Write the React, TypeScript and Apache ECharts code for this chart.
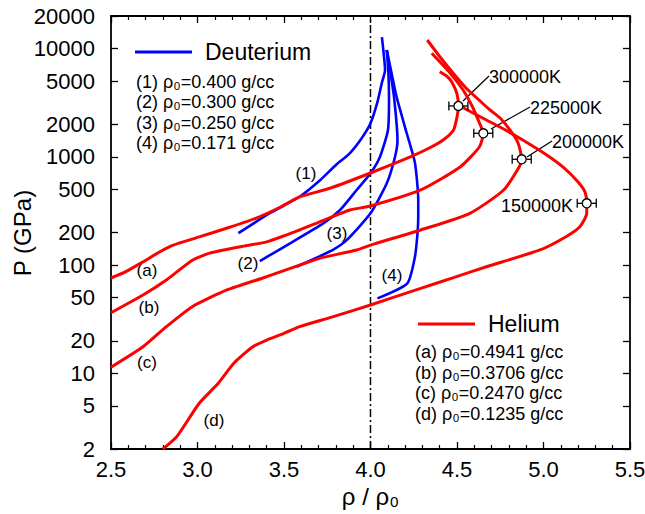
import React, { useEffect, useRef } from 'react';
import * as echarts from 'echarts';

// ---------- data ----------
const yTickValues = [2, 5, 10, 20, 50, 100, 200, 500, 1000, 2000, 5000, 10000, 20000];

// Helium Hugoniots [rho/rho0, P (GPa)]
const heliumA: [number, number][] = [
  [2.5, 76], [2.58, 86], [2.685, 107], [2.78, 132], [2.86, 153], [3.01, 182], [3.19, 225],
  [3.34, 272], [3.48, 344], [3.59, 426], [3.77, 515], [4.0, 709], [4.23, 997], [4.34, 1206],
  [4.42, 1431], [4.48, 1770], [4.5, 2333], [4.508, 2950], [4.5, 3805], [4.47, 4913],
  [4.44, 5581], [4.4, 6115],
];
const heliumB: [number, number][] = [
  [2.5, 36.3], [2.685, 52.9], [2.82, 72.8], [2.97, 111], [3.07, 129], [3.25, 148], [3.4, 164],
  [3.59, 211], [3.71, 252], [3.88, 323], [4.0, 351], [4.29, 494], [4.52, 811], [4.63, 1240],
  [4.652, 1650], [4.63, 2053], [4.59, 2886], [4.535, 4144], [4.46, 5948], [4.354, 9045],
];
const heliumC: [number, number][] = [
  [2.5, 11.4], [2.685, 17.6], [2.82, 27], [2.97, 41.3], [3.17, 58.9], [3.4, 78.1], [3.59, 100],
  [3.71, 116], [3.92, 138], [4.0, 153], [4.29, 211], [4.575, 301], [4.77, 494], [4.86, 811],
  [4.874, 949], [4.853, 1342], [4.806, 1770], [4.749, 2284], [4.691, 2708], [4.633, 3280],
  [4.552, 4324], [4.477, 5948], [4.402, 8360], [4.328, 12000],
];
const heliumD: [number, number][] = [
  [2.8, 2.0], [2.88, 2.6], [3.01, 5.29], [3.12, 8.09], [3.21, 12.4], [3.32, 17.6],
  [3.4, 20.3], [3.5, 23.4], [3.59, 27.0], [3.785, 33.4], [4.0, 42.8], [4.29, 61], [4.48, 76.6],
  [4.67, 96.6], [4.98, 138], [5.13, 183], [5.21, 226], [5.25, 301], [5.25, 372], [5.24, 473],
  [5.2, 586], [5.12, 788], [5.01, 1062], [4.88, 1431], [4.78, 1770], [4.67, 2189], [4.56, 2708],
  [4.52, 2949],
];

// Deuterium Hugoniots
const deut1: [number, number][] = [
  [3.236, 197], [3.42, 303], [3.59, 428], [3.71, 611], [3.8, 841], [3.88, 1078], [3.95, 1493],
  [4.0, 2041], [4.04, 3200], [4.065, 4779], [4.084, 6300], [4.08, 7845], [4.066, 12790],
];
const deut2: [number, number][] = [
  [3.36, 109], [3.535, 159], [3.727, 243], [3.824, 323], [3.92, 494], [4.0, 705], [4.055, 1003],
  [4.101, 1770], [4.107, 3571], [4.104, 5700], [4.094, 9703],
];
const deut3: [number, number][] = [
  [3.573, 96.6], [3.708, 121], [3.783, 138], [3.862, 170], [4.0, 301], [4.094, 569],
  [4.142, 1003], [4.156, 1431], [4.136, 3571], [4.113, 6340], [4.094, 9703],
];
const deut4: [number, number][] = [
  [4.04, 49.3], [4.213, 67.9], [4.257, 119.5], [4.272, 200], [4.276, 280], [4.276, 399],
  [4.257, 877], [4.209, 1660], [4.151, 3571], [4.124, 5700], [4.094, 9703],
];

// temperature markers on the helium curves [rho/rho0, P]
const markerPoints: [number, number][] = [[4.508, 2950], [4.652, 1650], [4.874, 949], [5.25, 372]];
const markerErrors = [0.055, 0.055, 0.055, 0.055];
const markerTemps = ['300000K', '225000K', '200000K', '150000K'];

const deutKeys = ['(1)', '(2)', '(3)', '(4)'];
const deutRho0 = ['0.400', '0.300', '0.250', '0.171'];
const heKeys = ['(a)', '(b)', '(c)', '(d)'];
const heRho0 = ['0.4941', '0.3706', '0.2470', '0.1235'];

// ---------- chart ----------
const F = '"Liberation Sans", Arial, Helvetica, sans-serif';
const RED = '#ff0000';
const BLUE = '#0000ff';
const lg = (p: number) => Math.log10(p);
const toLog = (pts: [number, number][]) => pts.map(([r, p]) => [r, lg(p)]);

function txt(text: string, x: number, y: number, fontSize: number, align = 'left', rotation = 0) {
  return {
    type: 'text',
    x,
    y,
    rotation,
    silent: true,
    style: {
      text,
      fontSize,
      fontFamily: F,
      fill: '#000',
      align,
      textAlign: align,
      verticalAlign: 'middle',
      textVerticalAlign: 'middle',
    },
  };
}

function lineEl(x1: number, y1: number, x2: number, y2: number, color: string, w: number) {
  return { type: 'line', silent: true, shape: { x1, y1, x2, y2 }, style: { stroke: color, lineWidth: w } };
}

export default function App() {
  const ref = useRef<HTMLDivElement>(null);

  useEffect(() => {
    if (!ref.current) return;
    const chart = echarts.init(ref.current, undefined, { renderer: 'svg' });

    const yMin = lg(2);
    const yMax = lg(20000);
    const tickLogs = yTickValues.map(lg);

    const axisLineStyle = { color: '#000', width: 1.8 };
    const xAxisCommon = {
      type: 'value',
      min: 2.5,
      max: 5.5,
      interval: 0.5,
      splitLine: { show: false },
      axisLine: { show: true, onZero: false, lineStyle: axisLineStyle },
      axisTick: { show: true, inside: true, length: 7, lineStyle: { color: '#000', width: 1.3 } },
      minorTick: { show: true, splitNumber: 5, length: 4, lineStyle: { color: '#000', width: 1.2 } },
    };
    const yAxisCommon = {
      type: 'value',
      min: yMin,
      max: yMax,
      splitLine: { show: false },
      axisLine: { show: true, onZero: false, lineStyle: axisLineStyle },
      axisTick: {
        show: true, inside: true, length: 7, customValues: tickLogs,
        lineStyle: { color: '#000', width: 1.3 },
      },
    };

    const lineSeries = (name: string, pts: [number, number][], color: string, width: number) => ({
      name,
      type: 'line',
      data: toLog(pts),
      showSymbol: false,
      symbol: 'none',
      smooth: 0.2,
      clip: true,
      lineStyle: { color, width },
      silent: true,
      z: 3,
    });

    const graphic: any[] = [
      // y axis title
      txt('P (GPa)', 22, 233, 24, 'center', Math.PI / 2),
      // Deuterium legend
      lineEl(135, 52, 192, 52, BLUE, 3),
      txt('Deuterium', 205, 52, 23),
      ...deutKeys.map((k, i) => txt(`${k} ρ₀=${deutRho0[i]} g/cc`, 136, 82 + i * 20.3, 18)),
      // Helium legend
      lineEl(418, 324, 475, 324, RED, 3),
      txt('Helium', 488, 324, 23),
      ...heKeys.map((k, i) => txt(`${k} ρ₀=${heRho0[i]} g/cc`, 415, 352 + i * 20.5, 18)),
      // curve labels
      txt('(1)', 306, 173, 17, 'center'),
      txt('(2)', 248, 263, 17, 'center'),
      txt('(3)', 337, 233, 17, 'center'),
      txt('(4)', 392, 275, 17, 'center'),
      txt('(a)', 147, 270, 17, 'center'),
      txt('(b)', 149, 307, 17, 'center'),
      txt('(c)', 147, 362, 17, 'center'),
      txt('(d)', 214, 420, 17, 'center'),
      // temperature labels + leaders
      lineEl(463, 101, 489, 76, '#000', 1.2),
      txt(markerTemps[0], 489, 77, 18),
      lineEl(491, 129, 530, 107, '#000', 1.2),
      txt(markerTemps[1], 530, 108, 18),
      lineEl(527, 157, 552, 141, '#000', 1.2),
      txt(markerTemps[2], 552, 142, 18),
      txt(markerTemps[3], 573, 206, 18, 'right'),
    ];

    chart.setOption({
      animation: false,
      backgroundColor: '#fff',
      grid: { left: 111, right: 15, top: 16, bottom: 65, containLabel: false, outerBoundsMode: 'none' },
      xAxis: [
        {
          ...xAxisCommon,
          position: 'bottom',
          name: 'ρ / ρ₀',
          nameLocation: 'middle',
          nameGap: 35,
          nameMoveOverlap: false,
          nameTextStyle: { fontSize: 24, fontFamily: F, color: '#000' },
          axisLabel: {
            show: true,
            margin: 9,
            fontSize: 22,
            fontFamily: F,
            color: '#000',
            formatter: (v: number) => v.toFixed(1),
          },
        },
        {
          ...xAxisCommon,
          position: 'top',
          axisLabel: { show: false },
        },
      ],
      yAxis: [
        {
          ...yAxisCommon,
          position: 'left',
          axisLabel: {
            show: true,
            margin: 16,
            fontSize: 22,
            fontFamily: F,
            color: '#000',
            customValues: tickLogs,
            formatter: (v: number) => String(Math.round(Math.pow(10, v))),
          },
        },
        {
          ...yAxisCommon,
          position: 'right',
          axisLabel: { show: false },
        },
      ],
      series: [
        {
          name: 'ref',
          type: 'line',
          data: [[4, yMin], [4, yMax]],
          showSymbol: false,
          symbol: 'none',
          lineStyle: { color: '#000', width: 1.5, type: [8, 3, 2, 3] },
          silent: true,
          z: 2,
        },
        lineSeries('Deuterium 1', deut1, BLUE, 2.6),
        lineSeries('Deuterium 2', deut2, BLUE, 2.6),
        lineSeries('Deuterium 3', deut3, BLUE, 2.6),
        lineSeries('Deuterium 4', deut4, BLUE, 2.6),
        lineSeries('Helium a', heliumA, RED, 3),
        lineSeries('Helium b', heliumB, RED, 3),
        lineSeries('Helium c', heliumC, RED, 3),
        lineSeries('Helium d', heliumD, RED, 3),
        {
          name: 'markers',
          type: 'custom',
          coordinateSystem: 'cartesian2d',
          silent: true,
          clip: false,
          z: 10,
          data: markerPoints.map((m, i) => [m[0], lg(m[1]), markerErrors[i]]),
          encode: { x: 0, y: 1 },
          renderItem: (_params: any, api: any) => {
            const x = api.value(0);
            const y = api.value(1);
            const e = api.value(2);
            const c = api.coord([x, y]);
            const l = api.coord([x - e, y]);
            const r = api.coord([x + e, y]);
            const st = { stroke: '#000', lineWidth: 1.3 };
            return {
              type: 'group',
              children: [
                { type: 'line', shape: { x1: l[0], y1: c[1], x2: r[0], y2: c[1] }, style: st },
                { type: 'line', shape: { x1: l[0], y1: c[1] - 4.5, x2: l[0], y2: c[1] + 4.5 }, style: st },
                { type: 'line', shape: { x1: r[0], y1: c[1] - 4.5, x2: r[0], y2: c[1] + 4.5 }, style: st },
                { type: 'circle', shape: { cx: c[0], cy: c[1], r: 4.5 }, style: { fill: '#fff', stroke: '#000', lineWidth: 1.3 } },
              ],
            };
          },
        },
      ],
      graphic,
    });

    return () => chart.dispose();
  }, []);

  return (
    <div
      ref={ref}
      style={{ position: 'fixed', left: 0, top: 0, width: 645, height: 514, background: '#fff' }}
    />
  );
}
